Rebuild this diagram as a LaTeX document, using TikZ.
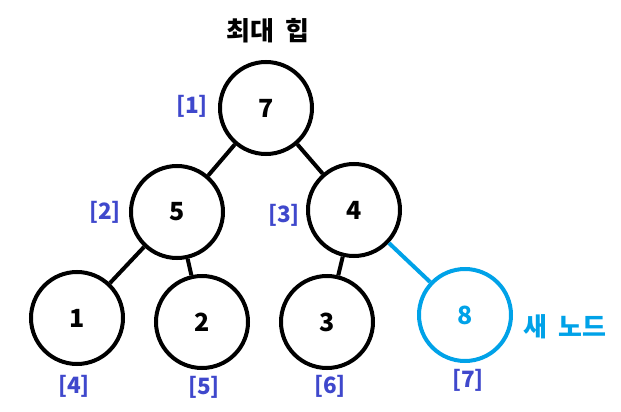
\documentclass[tikz,border=0pt]{standalone}
\usepackage{fontspec}
\setmainfont{Noto Sans CJK KR}
\usepackage{xcolor}
\definecolor{paintblue}{HTML}{3F48CC}
\definecolor{paintcyan}{HTML}{00A2E8}

\begin{document}
\begin{tikzpicture}[x=1pt,y=-1pt,
    heapnode/.style={circle, draw, line width=4pt, minimum size=92pt, inner sep=0pt,
        font=\fontsize{25}{25}\selectfont\bfseries},
    newnode/.style={heapnode, draw=paintcyan, text=paintcyan},
    idx/.style={text=paintblue, font=\fontsize{22.5}{22.5}\selectfont\bfseries},
    link/.style={line width=4pt}]
    \useasboundingbox (0,0) rectangle (621,412);

    % Judul
    \node (title) at (268,31) {\fontsize{26}{26}\selectfont\bfseries 최대\hspace{11pt}힙};

    % Simpul heap
    \node[heapnode] (n7) at (266,108) {7};
    \node[heapnode] (n5) at (177,212) {5};
    \node[heapnode] (n4) at (354,210) {4};
    \node[heapnode] (n1) at (77,318) {1};
    \node[heapnode] (n2) at (202,322) {2};
    \node[heapnode] (n3) at (327,322) {3};
    \node[newnode]  (n8) at (465,315) {8};

    % Indeks
    \node[idx] (i1) at (192,106) {[1]};
    \node[idx] (i2) at (105,212) {[2]};
    \node[idx] (i3) at (284,215) {[3]};
    \node[idx] (i4) at (74,386) {[4]};
    \node[idx] (i5) at (204,387) {[5]};
    \node[idx] (i6) at (330,386) {[6]};
    \node[idx] (i7) at (468,380) {[7]};

    % Label simpul baru
    \node[text=paintcyan, font=\fontsize{26}{26}\selectfont\bfseries] (newlabel) at (565,327) {새\hspace{11pt}노드};

    % Sisi
    \draw[link] (n7) -- (n5);
    \draw[link] (n7) -- (n4);
    \draw[link] (n5) -- (n1);
    \draw[link] (n5) -- (n2);
    \draw[link] (n4) -- (n3);
    \draw[link, paintcyan] (n4) -- (n8);
\end{tikzpicture}
\end{document}
